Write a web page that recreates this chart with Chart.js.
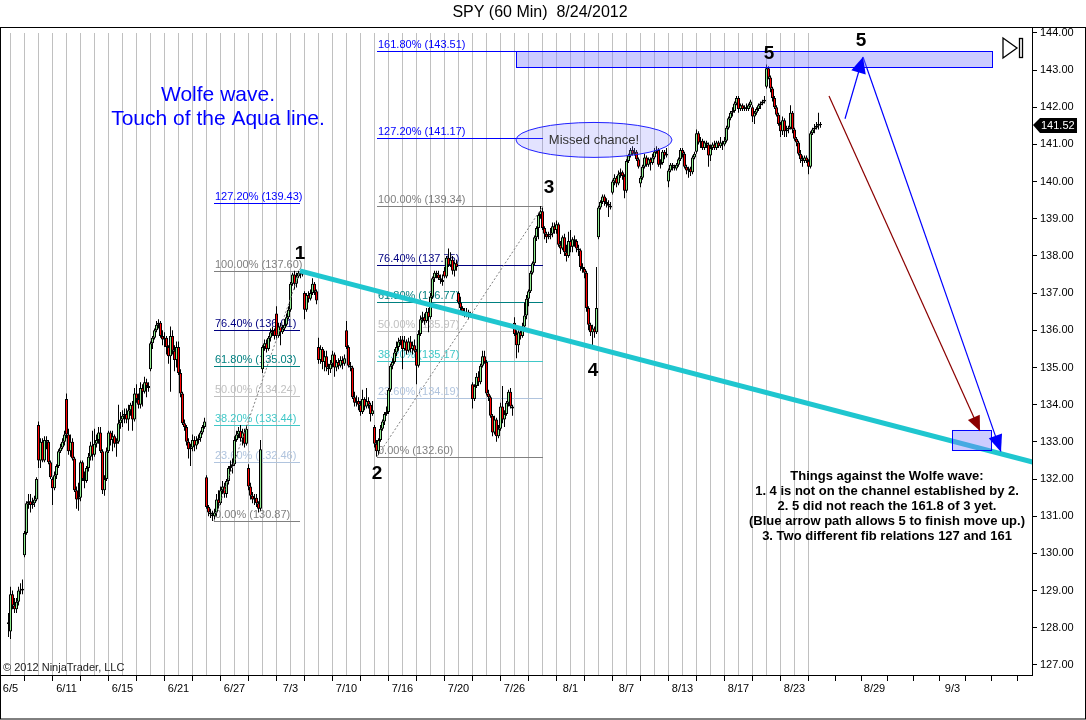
<!DOCTYPE html>
<html lang="en">
<head>
<meta charset="UTF-8">
<title>SPY (60 Min) 8/24/2012</title>
<script src="https://cdn.jsdelivr.net/npm/chart.js@4"></script>
<style>
  html, body { margin: 0; padding: 0; background: #fff; }
  #chart { display: block; }
</style>
</head>
<body>
<canvas id="chart" width="1086" height="720"></canvas>
<script>
// SPY 60 min bars, one row per trading day (7 bars), first value is the last bar of 6/4
const firstBar = -1;

const opens = [128.1,
  127.9, 128.9, 128.6, 128.5, 128.7, 129.0, 129.0,
  129.95, 130.55, 131.35, 131.4, 131.3, 131.35, 131.45,
  133.45, 132.5, 133.0, 132.5, 133.05, 133.0, 132.45,
  132.0, 131.75, 132.1, 132.35, 132.75, 132.85, 133.0,
  134.15, 133.2, 132.75, 133.0, 132.55, 131.7, 131.45,
  131.5, 132.45, 132.0, 131.95, 132.3, 132.6, 132.9,
  132.65, 132.95, 133.05, 133.25, 132.75, 131.7, 132.0,
  132.75, 133.25, 133.05, 133.15, 132.95, 133.0, 133.5,
  133.6, 133.7, 133.75, 133.6, 133.85, 134.0, 133.6,
  134.3, 134.15, 134.0, 134.45, 134.35, 134.6, 134.5,
  134.95, 135.65, 135.8, 136.0, 136.15, 136.2, 135.85,
  135.75, 135.8, 135.55, 135.3, 135.85, 135.45, 135.2,
  135.55, 134.85, 134.3, 133.5, 133.4, 133.0, 132.8,
  132.85, 133.05, 132.9, 133.05, 133.1, 133.25, 133.4,
  132.05, 131.25, 131.1, 131.05, 131.0, 131.1, 131.45,
  131.35, 131.7, 131.8, 131.6, 131.95, 132.3, 132.35,
  132.4, 133.05, 133.2, 133.3, 133.1, 133.25, 132.95,
  132.3, 131.8, 131.55, 131.45, 131.5, 131.35, 131.2,
  134.95, 135.55, 135.65, 135.5, 135.8, 135.95, 136.0,
  136.45, 135.85, 136.1, 135.95, 136.05, 136.15, 136.35,
  136.55, 137.25, 137.5, 137.25, 137.45, 137.55, 137.5,
  137.0, 136.55, 136.95, 136.85, 137.0, 137.25, 137.05,
  135.55, 135.2, 135.5, 135.15, 135.3, 135.0, 134.95,
  135.1, 135.35, 135.0, 135.15, 135.05, 135.2, 135.1,
  136.0, 135.55, 135.05, 135.0, 134.2, 134.05, 134.1,
  134.0, 133.8, 134.15, 133.95, 134.1, 134.0, 133.75,
  133.4, 132.95, 132.75, 133.05, 133.35, 133.55, 133.75,
  133.8, 134.4, 135.05, 135.15, 135.4, 135.55, 135.7,
  135.75, 135.5, 135.7, 135.45, 135.7, 135.5, 135.6,
  135.45, 135.05, 135.9, 136.3, 136.35, 136.25, 136.5,
  136.35, 136.9, 137.4, 137.55, 137.5, 137.4, 137.35,
  137.6, 137.45, 137.95, 137.75, 137.9, 137.6, 137.8,
  137.0, 136.75, 136.6, 136.5, 136.45, 136.5, 136.4,
  134.55, 134.15, 134.5, 134.75, 134.6, 135.05, 135.3,
  135.15, 134.3, 134.2, 133.7, 133.25, 133.6, 133.15,
  133.35, 133.95, 133.6, 133.75, 134.05, 134.35, 133.95,
  136.2, 135.9, 135.6, 135.95, 135.85, 136.1, 136.4,
  136.85, 137.05, 137.55, 137.8, 138.5, 138.75, 139.1,
  139.2, 138.75, 138.6, 138.5, 138.55, 138.6, 138.8,
  138.7, 138.85, 138.3, 138.2, 138.5, 138.1, 138.0,
  138.4, 138.25, 138.45, 138.4, 138.2, 138.15, 137.7,
  137.65, 137.55, 136.6, 136.15, 135.95, 136.05, 135.95,
  138.5, 139.3, 139.45, 139.6, 139.45, 139.4, 139.35,
  139.7, 140.0, 140.1, 139.95, 140.2, 140.25, 140.15,
  139.75, 140.55, 140.7, 140.85, 140.75, 140.8, 140.6,
  139.95, 140.1, 140.4, 140.65, 140.45, 140.6, 140.5,
  140.65, 140.8, 140.85, 140.45, 140.5, 140.8, 140.7,
  140.0, 140.3, 140.45, 140.4, 140.35, 140.45, 140.6,
  140.85, 140.75, 140.4, 140.3, 140.35, 140.25, 140.65,
  140.8, 141.3, 141.05, 141.1, 140.9, 141.05, 141.0,
  140.7, 140.9, 141.0, 140.9, 141.05, 140.95, 141.05,
  141.0, 141.1, 141.45, 141.7, 141.85, 141.9, 142.1,
  142.25, 141.95, 142.05, 141.95, 142.0, 141.95, 142.05,
  142.0, 141.75, 141.85, 141.95, 142.05, 142.1, 142.15,
  142.55, 143.05, 142.8, 142.5, 142.25, 142.0, 141.8,
  141.55, 141.35, 141.65, 141.35, 141.4, 141.45, 141.85,
  141.4, 141.15, 141.05, 140.75, 140.6, 140.55, 140.65,
  140.55, 140.4, 141.3, 141.4, 141.45, 141.5, 141.55
];

const highs = [128.4,
  129.1, 129.0, 128.8, 128.8, 129.1, 129.2, 129.3,
  130.6, 131.4, 131.6, 131.6, 131.5, 131.55, 132.05,
  133.55, 133.1, 133.1, 133.15, 133.15, 133.05, 132.5,
  132.05, 132.2, 132.4, 132.8, 132.95, 133.1, 133.3,
  134.3, 133.35, 133.2, 133.1, 132.6, 131.8, 131.9,
  132.5, 132.5, 132.2, 132.35, 132.7, 133.0, 133.3,
  133.35, 133.2, 133.4, 133.4, 132.8, 132.1, 132.85,
  133.3, 133.3, 133.3, 133.2, 133.1, 134.0, 133.8,
  133.85, 133.9, 133.9, 134.0, 134.05, 134.1, 134.45,
  134.55, 134.3, 134.6, 134.55, 134.75, 134.7, 134.6,
  135.7, 135.85, 136.05, 136.25, 136.3, 136.25, 136.0,
  135.95, 135.85, 135.6, 136.1, 136.0, 135.6, 135.7,
  135.7, 134.95, 134.35, 133.6, 133.45, 133.1, 132.95,
  133.2, 133.15, 133.15, 133.2, 133.3, 133.45, 133.65,
  132.1, 131.3, 131.2, 131.15, 131.2, 131.6, 131.7,
  131.8, 131.95, 131.9, 132.0, 132.35, 132.5, 132.55,
  133.15, 133.3, 133.4, 133.45, 133.35, 133.35, 133.45,
  132.4, 131.9, 131.65, 131.6, 131.6, 131.4, 133.05,
  135.6, 135.75, 135.75, 135.85, 136.05, 136.1, 136.05,
  136.65, 136.2, 136.2, 136.15, 136.3, 136.45, 136.65,
  137.3, 137.55, 137.6, 137.55, 137.6, 137.6, 137.55,
  137.05, 137.0, 137.05, 137.1, 137.4, 137.3, 137.1,
  135.8, 135.6, 135.55, 135.45, 135.45, 135.1, 135.2,
  135.45, 135.4, 135.2, 135.25, 135.3, 135.3, 135.35,
  136.25, 135.6, 135.15, 135.05, 134.35, 134.25, 134.2,
  134.1, 134.4, 134.2, 134.45, 134.2, 134.05, 134.1,
  133.45, 133.05, 133.1, 133.45, 133.6, 133.8, 133.95,
  134.45, 135.1, 135.25, 135.5, 135.7, 135.8, 135.85,
  135.85, 135.85, 135.75, 135.8, 135.85, 135.7, 135.75,
  135.5, 136.0, 136.4, 136.5, 136.45, 136.6, 136.6,
  137.0, 137.45, 137.6, 137.6, 137.6, 137.5, 137.5,
  137.7, 138.0, 138.2, 138.1, 138.0, 137.85, 137.9,
  137.05, 136.9, 136.65, 136.6, 136.6, 136.55, 136.5,
  134.6, 134.55, 134.85, 134.9, 135.1, 135.45, 135.45,
  135.2, 134.4, 134.25, 133.75, 133.7, 133.65, 133.45,
  134.05, 134.5, 133.85, 134.1, 134.4, 134.45, 134.0,
  136.35, 136.0, 136.0, 136.05, 136.2, 136.75, 136.95,
  137.1, 137.6, 137.85, 138.55, 138.8, 139.15, 139.34,
  139.3, 138.8, 138.65, 138.65, 138.75, 138.9, 138.9,
  138.95, 138.9, 138.4, 138.55, 138.6, 138.3, 138.65,
  138.7, 138.5, 138.55, 138.45, 138.3, 138.2, 137.8,
  137.7, 137.6, 136.65, 136.2, 136.15, 136.1, 137.7,
  139.35, 139.5, 139.65, 139.65, 139.55, 139.5, 139.45,
  140.05, 140.2, 140.15, 140.3, 140.35, 140.3, 140.2,
  140.6, 140.75, 140.9, 140.95, 140.9, 140.85, 140.65,
  140.15, 140.45, 140.75, 140.7, 140.65, 140.65, 140.75,
  140.9, 140.95, 140.9, 140.6, 140.85, 140.85, 140.9,
  140.35, 140.5, 140.5, 140.45, 140.5, 140.65, 140.9,
  140.9, 140.8, 140.45, 140.4, 140.4, 140.7, 140.8,
  141.4, 141.35, 141.2, 141.15, 141.1, 141.1, 141.05,
  141.0, 141.05, 141.1, 141.1, 141.1, 141.2, 141.1,
  141.2, 141.5, 141.75, 141.9, 142.0, 142.15, 142.3,
  142.3, 142.1, 142.1, 142.05, 142.1, 142.1, 142.2,
  142.05, 141.9, 142.0, 142.1, 142.15, 142.2, 142.3,
  143.15, 143.1, 142.85, 142.55, 142.3, 142.05, 141.85,
  141.6, 141.75, 141.7, 141.5, 141.5, 142.05, 141.9,
  141.45, 141.2, 141.1, 140.85, 140.7, 140.7, 140.7,
  140.6, 141.35, 141.45, 141.55, 141.6, 141.85, 141.6
];

const lows = [127.75,
  127.7, 128.5, 128.4, 128.4, 128.6, 128.9, 128.9,
  129.9, 130.5, 131.2, 131.1, 131.2, 131.25, 131.4,
  132.3, 132.3, 132.45, 132.45, 132.8, 132.4, 132.0,
  131.3, 131.7, 132.0, 132.3, 132.7, 132.8, 132.9,
  133.1, 132.65, 132.6, 132.5, 131.65, 131.2, 131.15,
  131.4, 131.95, 131.75, 131.9, 132.2, 132.5, 132.5,
  132.6, 132.85, 132.95, 132.7, 131.6, 131.55, 131.95,
  132.7, 132.9, 132.75, 132.85, 132.6, 132.95, 133.35,
  133.4, 133.5, 133.5, 133.3, 133.7, 133.3, 133.55,
  134.05, 133.9, 133.9, 133.95, 134.3, 134.2, 134.35,
  134.9, 135.5, 135.75, 135.95, 136.05, 135.8, 135.6,
  135.55, 135.35, 135.1, 134.35, 135.35, 134.9, 135.0,
  134.8, 134.2, 133.45, 133.3, 132.9, 132.55, 132.35,
  132.75, 132.75, 132.8, 132.95, 133.0, 133.2, 133.35,
  131.2, 131.0, 130.95, 130.87, 130.9, 131.0, 131.2,
  131.3, 131.6, 131.5, 131.5, 131.85, 132.2, 132.15,
  132.35, 133.0, 133.1, 133.0, 132.9, 132.85, 132.9,
  131.7, 131.45, 131.35, 131.3, 131.25, 131.1, 131.15,
  134.85, 135.45, 135.4, 135.45, 135.7, 135.85, 135.75,
  135.75, 135.8, 135.6, 135.9, 136.0, 136.1, 136.3,
  136.5, 137.2, 137.1, 137.15, 137.4, 137.4, 137.45,
  136.3, 136.5, 136.75, 136.8, 136.95, 136.95, 136.7,
  135.1, 135.1, 134.95, 134.9, 134.9, 134.8, 134.85,
  135.0, 134.75, 134.9, 134.95, 135.0, 134.95, 135.05,
  135.5, 135.0, 134.9, 134.15, 133.95, 133.95, 133.85,
  133.7, 133.75, 133.85, 133.9, 133.9, 133.55, 133.7,
  132.85, 132.6, 132.65, 133.0, 133.3, 133.45, 133.7,
  133.75, 134.35, 134.95, 135.1, 135.3, 135.45, 135.6,
  134.95, 135.45, 135.35, 135.4, 135.4, 135.35, 135.4,
  134.55, 135.0, 135.85, 136.2, 136.15, 136.2, 135.95,
  136.3, 136.85, 137.3, 137.4, 137.35, 137.25, 137.2,
  137.4, 137.4, 137.7, 137.7, 137.5, 137.45, 137.6,
  136.7, 136.5, 136.4, 136.35, 136.35, 136.3, 136.35,
  133.9, 134.1, 134.45, 134.5, 134.55, 135.0, 135.1,
  134.25, 134.1, 133.65, 133.15, 133.2, 133.0, 133.1,
  133.3, 133.5, 133.4, 133.7, 133.95, 133.9, 133.7,
  135.85, 135.25, 135.4, 135.75, 135.8, 136.05, 136.3,
  136.65, 137.0, 137.5, 137.75, 138.4, 138.45, 139.0,
  138.7, 138.45, 138.35, 138.45, 138.45, 138.5, 138.6,
  138.6, 138.25, 138.05, 138.15, 138.0, 137.85, 137.95,
  138.1, 138.1, 138.25, 138.1, 138.0, 137.6, 137.55,
  137.4, 136.5, 136.0, 135.85, 135.55, 135.8, 135.9,
  138.45, 139.25, 139.4, 139.35, 139.3, 139.05, 139.25,
  139.65, 139.9, 139.85, 139.9, 140.1, 140.05, 139.55,
  139.7, 140.5, 140.65, 140.7, 140.7, 140.55, 140.35,
  139.85, 140.05, 140.35, 140.4, 140.4, 140.3, 140.45,
  140.6, 140.75, 140.4, 140.35, 140.45, 140.6, 140.65,
  139.85, 140.25, 140.3, 140.3, 140.3, 140.4, 140.55,
  140.65, 140.35, 140.2, 140.1, 140.15, 140.2, 140.6,
  140.75, 141.0, 140.9, 140.85, 140.85, 140.9, 140.4,
  140.55, 140.85, 140.85, 140.85, 140.9, 140.9, 140.85,
  140.95, 141.05, 141.4, 141.65, 141.75, 141.85, 142.05,
  141.85, 141.9, 141.9, 141.9, 141.9, 141.9, 142.0,
  141.6, 141.55, 141.8, 141.9, 141.95, 142.05, 142.1,
  142.5, 142.75, 142.4, 142.15, 141.95, 141.75, 141.5,
  141.2, 141.25, 141.2, 141.2, 141.3, 141.4, 141.3,
  141.1, 140.95, 140.7, 140.5, 140.4, 140.5, 140.5,
  140.2, 140.35, 141.25, 141.3, 141.4, 141.4, 141.45
];

const closes = [128.15,
  128.9, 128.6, 128.5, 128.7, 129.0, 129.0, 129.05,
  130.55, 131.35, 131.4, 131.3, 131.35, 131.45, 132.0,
  132.5, 133.0, 132.5, 133.05, 133.0, 132.45, 132.05,
  131.75, 132.1, 132.35, 132.75, 132.85, 133.0, 133.2,
  133.2, 132.75, 133.0, 132.55, 131.7, 131.45, 131.5,
  132.45, 132.0, 131.95, 132.3, 132.6, 132.9, 132.65,
  132.95, 133.05, 133.25, 132.75, 131.7, 132.0, 132.75,
  133.25, 133.05, 133.15, 132.95, 133.0, 133.5, 133.6,
  133.7, 133.75, 133.6, 133.85, 134.0, 133.6, 134.3,
  134.15, 134.0, 134.45, 134.35, 134.6, 134.5, 134.45,
  135.65, 135.8, 136.0, 136.15, 136.2, 135.85, 135.75,
  135.8, 135.55, 135.3, 135.85, 135.45, 135.2, 135.55,
  134.85, 134.3, 133.5, 133.4, 133.0, 132.8, 132.85,
  133.05, 132.9, 133.05, 133.1, 133.25, 133.4, 133.55,
  131.25, 131.1, 131.05, 131.0, 131.1, 131.45, 131.35,
  131.7, 131.8, 131.6, 131.95, 132.3, 132.35, 132.4,
  133.05, 133.2, 133.3, 133.1, 133.25, 132.95, 133.35,
  131.8, 131.55, 131.45, 131.5, 131.35, 131.2, 132.8,
  135.55, 135.65, 135.5, 135.8, 135.95, 136.0, 135.85,
  135.85, 136.1, 135.95, 136.05, 136.15, 136.35, 136.55,
  137.25, 137.5, 137.25, 137.45, 137.55, 137.5, 137.5,
  136.55, 136.95, 136.85, 137.0, 137.25, 137.05, 136.8,
  135.2, 135.5, 135.15, 135.3, 135.0, 134.95, 135.1,
  135.35, 135.0, 135.15, 135.05, 135.2, 135.1, 135.25,
  135.55, 135.05, 135.0, 134.2, 134.05, 134.1, 134.0,
  133.8, 134.15, 133.95, 134.1, 134.0, 133.75, 133.85,
  132.95, 132.75, 133.05, 133.35, 133.55, 133.75, 133.8,
  134.4, 135.05, 135.15, 135.4, 135.55, 135.7, 135.75,
  135.5, 135.7, 135.45, 135.7, 135.5, 135.6, 135.45,
  135.05, 135.9, 136.3, 136.35, 136.25, 136.5, 136.35,
  136.9, 137.4, 137.55, 137.5, 137.4, 137.35, 137.3,
  137.45, 137.95, 137.75, 137.9, 137.6, 137.8, 137.7,
  136.75, 136.6, 136.5, 136.45, 136.5, 136.4, 136.45,
  134.15, 134.5, 134.75, 134.6, 135.05, 135.3, 135.15,
  134.3, 134.2, 133.7, 133.25, 133.6, 133.15, 133.35,
  133.95, 133.6, 133.75, 134.05, 134.35, 133.95, 133.9,
  135.9, 135.6, 135.95, 135.85, 136.1, 136.4, 136.85,
  137.05, 137.55, 137.8, 138.5, 138.75, 139.1, 139.2,
  138.75, 138.6, 138.5, 138.55, 138.6, 138.8, 138.7,
  138.85, 138.3, 138.2, 138.5, 138.1, 138.0, 138.4,
  138.25, 138.45, 138.4, 138.2, 138.15, 137.7, 137.65,
  137.55, 136.6, 136.15, 135.95, 136.05, 135.95, 136.6,
  139.3, 139.45, 139.6, 139.45, 139.4, 139.35, 139.3,
  140.0, 140.1, 139.95, 140.2, 140.25, 140.15, 139.75,
  140.55, 140.7, 140.85, 140.75, 140.8, 140.6, 140.4,
  140.1, 140.4, 140.65, 140.45, 140.6, 140.5, 140.65,
  140.8, 140.85, 140.45, 140.5, 140.8, 140.7, 140.75,
  140.3, 140.45, 140.4, 140.35, 140.45, 140.6, 140.85,
  140.75, 140.4, 140.3, 140.35, 140.25, 140.65, 140.75,
  141.3, 141.05, 141.1, 140.9, 141.05, 141.0, 140.7,
  140.9, 141.0, 140.9, 141.05, 140.95, 141.05, 141.0,
  141.1, 141.45, 141.7, 141.85, 141.9, 142.1, 142.25,
  141.95, 142.05, 141.95, 142.0, 141.95, 142.05, 142.15,
  141.75, 141.85, 141.95, 142.05, 142.1, 142.15, 142.2,
  143.05, 142.8, 142.5, 142.25, 142.0, 141.8, 141.55,
  141.35, 141.65, 141.35, 141.4, 141.45, 141.85, 141.4,
  141.15, 141.05, 140.75, 140.6, 140.55, 140.65, 140.55,
  140.4, 141.3, 141.4, 141.45, 141.5, 141.55, 141.52
];

const tradingDays = ['6/5','6/6','6/7','6/8','6/11','6/12','6/13','6/14','6/15','6/18','6/19','6/20','6/21','6/22',
  '6/25','6/26','6/27','6/28','6/29','7/2','7/3','7/5','7/6','7/9','7/10','7/11','7/12','7/13',
  '7/16','7/17','7/18','7/19','7/20','7/23','7/24','7/25','7/26','7/27','7/30','7/31',
  '8/1','8/2','8/3','8/6','8/7','8/8','8/9','8/10','8/13','8/14','8/15','8/16','8/17',
  '8/20','8/21','8/22','8/23','8/24'];
const futureDays = ['8/27','8/28','8/29','8/30','8/31','9/3','9/4','9/5'];
const shownDays = ['6/5','6/11','6/15','6/21','6/27','7/3','7/10','7/16','7/20','7/26',
  '8/1','8/7','8/13','8/17','8/23','8/29','9/3'];
const priceTicks = [127,128,129,130,131,132,133,134,135,136,137,138,139,140,141,142,143,144];

// Fibonacci tools: A from 6/25 low to 7/3 high, B from 7/12 low to 7/27 high
const fibALevels = [127.2, 100, 76.4, 61.8, 50, 38.2, 23.6, 0];
const fibAPrices = [139.43, 137.60, 136.01, 135.03, 134.24, 133.44, 132.46, 130.87];
const fibBLevels = [161.8, 127.2, 100, 76.4, 61.8, 50, 38.2, 23.6, 0];
const fibBPrices = [143.51, 141.17, 139.34, 137.75, 136.77, 135.97, 135.17, 134.19, 132.60];
const fibASpan = [101.75, 144.75];
const fibBSpan = [183.25, 266.25];

// wave labels (bar, price)
const waveNames = ['1', '2', '3', '4', '5', '5'];
const waveBars = [144.75, 183.25, 269.25, 291.25, 379.25, 425.25];
const wavePrices = [138.05, 132.14, 139.83, 134.91, 143.43, 143.78];

// drawn lines (bar, price)
const aquaLine = [[144.75, 137.60], [520, 132.33]];
const fibATrend = [[101.75, 130.87], [144.75, 137.60]];
const fibBTrend = [[183.25, 132.60], [266.25, 139.34]];
const redArrow = [[409.25, 142.30], [484.75, 133.29]];
const blueUp = [[417.25, 141.69], [426.25, 143.35]];
const blueDown = [[426.25, 143.35], [495.25, 132.73]];
const targetBox = [[252.75, 143.51], [490.75, 143.08]];
const channelBox = [[470.75, 133.32], [490.25, 132.78]];
const missedEllipse = [291.75, 141.12, 39, 0.47];

const FONT = 'Arial, "Liberation Sans", sans-serif';
const UP = '#90EE90';
const DOWN = '#FF0000';
const BARS_PER_DAY = 7;
const FUTURE_START = 406;
const FUTURE_STEP = 13;

const fibColors = { '161.8': '#0000FF', '127.2': '#0000FF', '100': '#808080', '76.4': '#000080',
  '61.8': '#008080', '50': '#C0C0C0', '38.2': '#40C8C8', '23.6': '#B0C4DE', '0': '#808080' };

const xTickList = [];
tradingDays.forEach((d, k) => {
  if (k % 2 === 0) xTickList.push({ value: k * BARS_PER_DAY, label: shownDays.includes(d) ? d : '' });
});
futureDays.forEach((d, k) => {
  xTickList.push({ value: FUTURE_START + k * FUTURE_STEP, label: shownDays.includes(d) ? d : '' });
});

const bodies = closes.map((c, j) => ({ x: firstBar + j, y: [opens[j], c] }));
const wicks = closes.map((c, j) => ({ x: firstBar + j, y: [lows[j], highs[j]] }));
const pts = arr => arr.map(p => ({ x: p[0], y: p[1] }));

function lineSet(points, color, width, dash) {
  return {
    type: 'line', data: pts(points), borderColor: color, borderWidth: width,
    borderDash: dash || [], pointRadius: 0, fill: false, tension: 0, order: 0, clip: 0
  };
}

function arrowHead(c, x1, y1, x2, y2, len, half, color) {
  const a = Math.atan2(y2 - y1, x2 - x1);
  const bx = x2 - len * Math.cos(a), by = y2 - len * Math.sin(a);
  c.beginPath();
  c.moveTo(x2, y2);
  c.lineTo(bx + half * Math.sin(a), by - half * Math.cos(a));
  c.lineTo(bx - half * Math.sin(a), by + half * Math.cos(a));
  c.closePath();
  c.fillStyle = color;
  c.fill();
}

// day separators and fib levels, drawn under the bars
const underlay = {
  id: 'underlay',
  beforeDatasetsDraw(chart) {
    const c = chart.ctx, xs = chart.scales.x, ys = chart.scales.y, area = chart.chartArea;
    c.save();
    c.strokeStyle = '#C0C0C0';
    c.lineWidth = 1;
    tradingDays.forEach((d, k) => {
      const x = Math.round(xs.getPixelForValue(k * BARS_PER_DAY - 0.5)) + 0.5;
      c.beginPath();
      c.moveTo(x, area.top + 5);
      c.lineTo(x, area.bottom);
      c.stroke();
    });
    c.font = '11px ' + FONT;
    c.textAlign = 'left';
    c.textBaseline = 'bottom';
    const drawFib = (levels, prices, span) => {
      const x1 = xs.getPixelForValue(span[0]), x2 = xs.getPixelForValue(span[1]);
      levels.forEach((lv, i) => {
        const y = Math.round(ys.getPixelForValue(prices[i])) + 0.5;
        const col = fibColors[String(lv)];
        c.strokeStyle = col;
        c.beginPath();
        c.moveTo(x1, y);
        c.lineTo(x2, y);
        c.stroke();
        c.fillStyle = col;
        c.fillText(lv.toFixed(2) + '% (' + prices[i].toFixed(2) + ')', x1 + 1, y - 1);
      });
    };
    drawFib(fibALevels, fibAPrices, fibASpan);
    drawFib(fibBLevels, fibBPrices, fibBSpan);
    c.restore();
  }
};

// boxes, ellipse, arrow heads and text notes, drawn over the bars
const overlay = {
  id: 'overlay',
  afterDatasetsDraw(chart) {
    const c = chart.ctx, xs = chart.scales.x, ys = chart.scales.y;
    const px = p => [xs.getPixelForValue(p[0]), ys.getPixelForValue(p[1])];
    c.save();

    [targetBox, channelBox].forEach(b => {
      const [x1, y1] = px(b[0]), [x2, y2] = px(b[1]);
      c.fillStyle = 'rgba(128,128,255,0.4)';
      c.fillRect(x1, y1, x2 - x1, y2 - y1);
      c.strokeStyle = '#0000FF';
      c.lineWidth = 1;
      c.strokeRect(Math.round(x1) + 0.5, Math.round(y1) + 0.5, Math.round(x2 - x1), Math.round(y2 - y1));
    });

    const ex = xs.getPixelForValue(missedEllipse[0]), ey = ys.getPixelForValue(missedEllipse[1]);
    const rx = xs.getPixelForValue(missedEllipse[0] + missedEllipse[2]) - ex;
    const ry = ys.getPixelForValue(missedEllipse[1] - missedEllipse[3]) - ey;
    c.beginPath();
    c.ellipse(ex, ey, rx, ry, 0, 0, Math.PI * 2);
    c.fillStyle = 'rgba(128,128,255,0.22)';
    c.fill();
    c.strokeStyle = '#2020FF';
    c.lineWidth = 1;
    c.stroke();
    c.fillStyle = '#333';
    c.font = '13px ' + FONT;
    c.textAlign = 'center';
    c.textBaseline = 'middle';
    c.fillText('Missed chance!', ex, ey);

    [[redArrow, '#8B0000', 15, 6.5], [blueUp, '#0000FF', 16, 7.5], [blueDown, '#0000FF', 17, 7]].forEach(a => {
      const [x1, y1] = px(a[0][0]), [x2, y2] = px(a[0][1]);
      arrowHead(c, x1, y1, x2, y2, a[2], a[3], a[1]);
    });

    c.fillStyle = '#000';
    c.font = 'bold 19px ' + FONT;
    waveNames.forEach((n, i) => {
      c.fillText(n, xs.getPixelForValue(waveBars[i]), ys.getPixelForValue(wavePrices[i]));
    });

    c.fillStyle = '#0000FF';
    c.font = '21px ' + FONT;
    c.fillText('Wolfe wave.', 218, 95);
    c.fillText('Touch of the Aqua line.', 218, 119);

    c.fillStyle = '#000';
    c.font = 'bold 13px ' + FONT;
    ['Things against the Wolfe wave:',
     '1. 4 is not on the channel established by 2.',
     '2. 5 did not reach the 161.8 of 3 yet.',
     '(Blue arrow path allows 5 to finish move up.)',
     '3. Two different fib relations 127 and 161'].forEach((t, i) => c.fillText(t, 887, 476 + i * 15));
    c.restore();
  }
};

// title, frame, copyright, last price marker
const frame = {
  id: 'frame',
  beforeDraw(chart) {
    const c = chart.ctx;
    c.save();
    c.fillStyle = '#fff';
    c.fillRect(0, 0, chart.width, chart.height);
    c.restore();
  },
  afterDraw(chart) {
    const c = chart.ctx, ys = chart.scales.y, area = chart.chartArea;
    c.save();
    c.fillStyle = '#000';
    c.font = '16px ' + FONT;
    c.textAlign = 'center';
    c.textBaseline = 'middle';
    c.fillText('SPY (60 Min)  8/24/2012', 540, 13);

    c.strokeStyle = '#000';
    c.lineWidth = 1;
    c.strokeRect(0.5, 27.5, chart.width - 1, chart.height - 28.5);

    c.font = '11px ' + FONT;
    c.textAlign = 'left';
    c.fillStyle = '#222';
    c.fillText('\u00A9 2012 NinjaTrader, LLC', 3, area.bottom - 7);

    // scroll-to-end icon
    c.lineWidth = 1.3;
    c.beginPath();
    c.moveTo(1003, 38); c.lineTo(1017, 48); c.lineTo(1003, 58); c.closePath();
    c.stroke();
    c.strokeRect(1019.5, 38.5, 3, 19);

    const last = closes[closes.length - 1];
    const y = Math.round(ys.getPixelForValue(last));
    const x0 = area.right + 1;
    c.fillStyle = '#000';
    c.beginPath();
    c.moveTo(x0, y);
    c.lineTo(x0 + 7, y - 7);
    c.lineTo(x0 + 44, y - 7);
    c.lineTo(x0 + 44, y + 8);
    c.lineTo(x0 + 7, y + 8);
    c.closePath();
    c.fill();
    c.fillStyle = '#fff';
    c.font = '11px ' + FONT;
    c.textAlign = 'left';
    c.fillText(last.toFixed(2), x0 + 8, y + 0.5);
    c.restore();
  }
};

Chart.defaults.font.family = FONT;

new Chart(document.getElementById('chart'), {
  type: 'bar',
  data: {
    datasets: [
      {
        label: 'body', data: bodies, grouped: false, order: 1,
        backgroundColor: ctx => closes[ctx.dataIndex] >= opens[ctx.dataIndex] ? UP : DOWN,
        borderColor: '#000', borderWidth: 1, borderSkipped: false,
        barThickness: 3, minBarLength: 1, inflateAmount: 0
      },
      {
        label: 'wick', data: wicks, grouped: false, order: 2,
        backgroundColor: '#000', borderWidth: 0, barThickness: 1, inflateAmount: 0
      },
      lineSet(aquaLine, '#1FC6CF', 5),
      lineSet(fibATrend, '#808080', 1, [2, 2]),
      lineSet(fibBTrend, '#808080', 1, [2, 2]),
      lineSet(redArrow, '#8B0000', 1.2),
      lineSet(blueUp, '#0000FF', 1.2),
      lineSet(blueDown, '#0000FF', 1.2)
    ]
  },
  options: {
    responsive: false,
    animation: false,
    devicePixelRatio: 1,
    layout: { padding: { left: 1, top: 28, right: 0, bottom: 0 } },
    plugins: { legend: { display: false }, tooltip: { enabled: false }, title: { display: false } },
    scales: {
      x: {
        type: 'linear', min: -4.75, max: 510.75, offset: false,
        afterBuildTicks: s => { s.ticks = xTickList.map(t => ({ value: t.value })); },
        afterFit: s => { s.height = 45; },
        ticks: {
          autoSkip: false, maxRotation: 0, minRotation: 0, padding: 1, color: '#000',
          font: { size: 11 }, callback: (v, i) => (xTickList[i] ? xTickList[i].label : '')
        },
        grid: { drawOnChartArea: false, color: '#000', tickLength: 6 },
        border: { display: true, color: '#000' }
      },
      y: {
        type: 'linear', position: 'right', min: 126.73, max: 144.13,
        afterBuildTicks: s => { s.ticks = priceTicks.map(v => ({ value: v })); },
        afterFit: s => { s.width = 54; },
        ticks: { autoSkip: false, padding: 3, color: '#000', font: { size: 11 }, callback: v => v.toFixed(2) },
        grid: { drawOnChartArea: false, color: '#000', tickLength: 5 },
        border: { display: true, color: '#000' }
      }
    }
  },
  plugins: [frame, underlay, overlay]
});
</script>
</body>
</html>
